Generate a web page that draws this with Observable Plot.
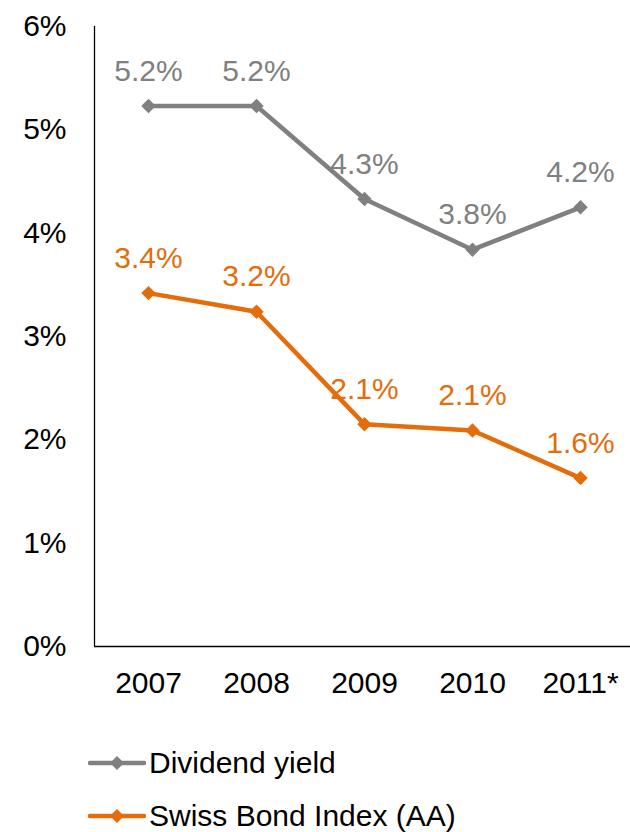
<!DOCTYPE html>
<html>
<head>
<meta charset="utf-8">
<script src="https://cdn.jsdelivr.net/npm/d3@7"></script>
<script src="https://cdn.jsdelivr.net/npm/@observablehq/plot@0.6"></script>
<style>
  body { margin: 0; background: #fff; font-family: "Liberation Sans", Arial, sans-serif; }
  #legend { padding-top: 36px; margin-left: 88px; }
  .row { display: flex; align-items: center; height: 53px; font-size: 30px; color: #000; }
  .row svg { margin-right: 3px; }
</style>
</head>
<body>
<div id="chart"></div>
<div id="legend"></div>
<script>
const years = ["2007", "2008", "2009", "2010", "2011*"];
const seriesNames = ["Dividend yield", "Swiss Bond Index (AA)"];
const seriesColors = ["#808080", "#E46C0A"];
const dividendYield = [5.23, 5.23, 4.33, 3.84, 4.25];
const dividendLabels = ["5.2%", "5.2%", "4.3%", "3.8%", "4.2%"];
const swissBond = [3.42, 3.24, 2.15, 2.09, 1.63];
const swissLabels = ["3.4%", "3.2%", "2.1%", "2.1%", "1.6%"];
const yTicks = [0, 1, 2, 3, 4, 5, 6];

const data = [];
years.forEach((y, i) => {
  data.push({i, year: y, series: seriesNames[0], value: dividendYield[i], label: dividendLabels[i]});
});
years.forEach((y, i) => {
  data.push({i, year: y, series: seriesNames[1], value: swissBond[i], label: swissLabels[i]});
});

const xDomain = [-0.5, years.length - 0.5];

const chart = Plot.plot({
  width: 630,
  height: 700,
  marginLeft: 94,
  marginRight: 0,
  marginTop: 26,
  marginBottom: 54,
  style: {fontFamily: "'Liberation Sans', Arial, sans-serif", fontSize: "30px", color: "#000", background: "#fff"},
  x: {domain: xDomain, range: [94, 634], ticks: years.map((_, i) => i), tickFormat: i => years[i], tickSize: 0, tickPadding: 25, label: null},
  y: {domain: [0, 6], ticks: yTicks, tickFormat: d => d + "%", tickSize: 0, tickPadding: 28, label: null},
  color: {domain: seriesNames, range: seriesColors},
  marks: [
    Plot.ruleY([0], {stroke: "#000", strokeWidth: 1.3}),
    Plot.ruleX([xDomain[0]], {stroke: "#000", strokeWidth: 1.3}),
    Plot.line(data, {x: "i", y: "value", z: "series", stroke: "series", strokeWidth: 4.5}),
    Plot.dot(data, {x: "i", y: "value", fill: "series", symbol: "diamond2", r: 6.5, stroke: null}),
    Plot.text(data, {x: "i", y: "value", text: "label", fill: "series", dy: -35, fontSize: 30})
  ]
});
document.getElementById("chart").appendChild(chart);

const legend = document.getElementById("legend");
seriesNames.forEach((name, k) => {
  const row = document.createElement("div");
  row.className = "row";
  const c = seriesColors[k];
  row.innerHTML = `<svg width="58" height="20" viewBox="0 0 58 20"><line x1="2" y1="10" x2="56" y2="10" stroke="${c}" stroke-width="4.5" stroke-linecap="round"/><path d="M29 3 L36 10 L29 17 L22 10 Z" fill="${c}"/></svg><span>${name}</span>`;
  legend.appendChild(row);
});
</script>
</body>
</html>
